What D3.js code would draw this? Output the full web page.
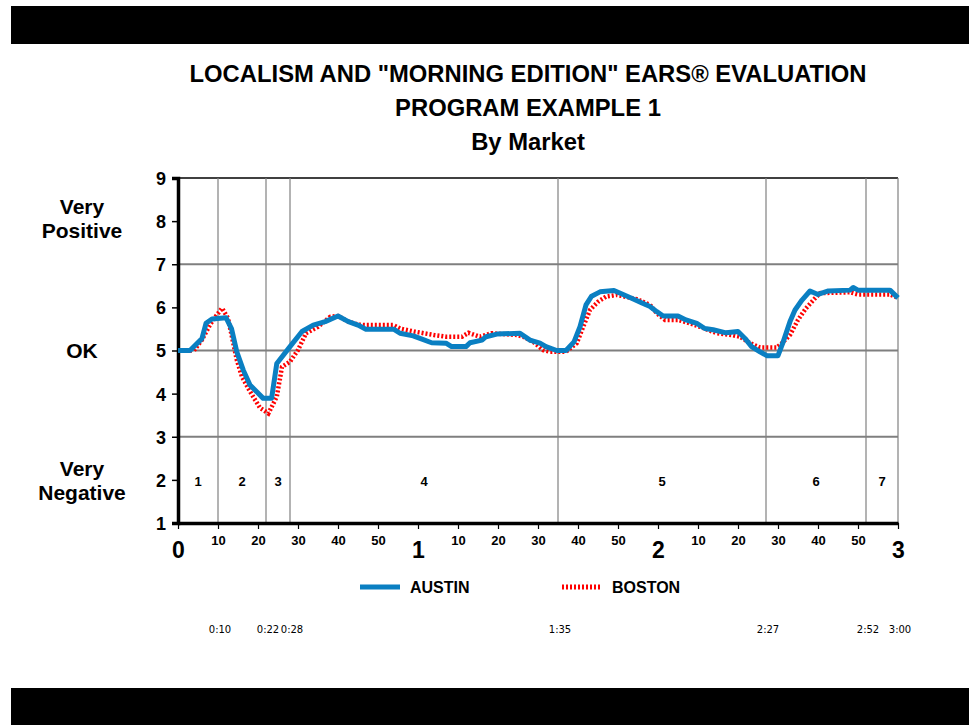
<!DOCTYPE html>
<html><head><meta charset="utf-8">
<script src="https://cdn.jsdelivr.net/npm/d3@7"></script>
<style>body{margin:0;background:#fff}svg{display:block}</style>
</head><body><svg id="c" width="969" height="725"></svg>
<script>
const titleLines = ['LOCALISM AND "MORNING EDITION" EARS® EVALUATION', 'PROGRAM EXAMPLE 1', 'By Market'];
const yTicks = [1,2,3,4,5,6,7,8,9];
const yGrid = [3,5,7,9];
const yCategories = [{lines:["Very","Positive"], v:8.05},{lines:["OK"], v:5},{lines:["Very","Negative"], v:1.97}];
const xTicks = d3.range(0,181,10);
const segmentBreaks = [10,22,28,95,147,172,180];
const breakLabels = ["0:10","0:22","0:28","1:35","2:27","2:52","3:00"];
const segmentNames = ["1","2","3","4","5","6","7"];
const segmentLabelX = [5,16,25,61.5,121,159.5,176];
const seriesNames = ["AUSTIN","BOSTON"];

const austinTime = [0,3,6,7,8.5,12,13.4,14.7,16.3,18,21.3,23.4,24.7,28,31,33.8,36.8,40,42.6,45,47,54,55.5,58.8,60.5,63.4,67,68.4,72,73,76,77,79.7,85.5,88,90.5,92,94.7,97,99,100.5,102,103.4,105.5,109,111,113.4,116,118,119.7,121.3,125,127,129.7,131.7,133.8,137,140,141.75,143.4,145.5,147.2,150,151.3,153,154.25,156,158,160,162.6,168,168.8,170,178,180];
const austinValue = [5.0,5.0,5.28,5.63,5.73,5.76,5.5,4.97,4.55,4.2,3.89,3.89,4.7,5.09,5.44,5.59,5.67,5.8,5.67,5.59,5.49,5.49,5.4,5.34,5.28,5.18,5.17,5.09,5.09,5.18,5.24,5.32,5.38,5.4,5.24,5.17,5.09,5.0,5.0,5.2,5.55,6.06,6.26,6.36,6.39,6.31,6.21,6.1,6.02,5.9,5.8,5.8,5.71,5.63,5.51,5.48,5.41,5.44,5.28,5.09,4.97,4.88,4.88,5.2,5.67,5.94,6.17,6.38,6.3,6.38,6.4,6.46,6.4,6.4,6.22];

const bostonTime = [0,4,6,8,9.5,11,12.5,14.7,16,18,20.5,22.6,24.7,26,28,30,32,35,38,40,42.6,45,47,53.8,55.5,59,64,67,71,72.6,75.5,78.4,84.7,86.3,88.8,91.3,93,97,99.7,101.3,103,105,107,109.7,114.7,118,119.7,121.75,125,128,130.5,134.7,138.4,140.5,143,145.5,149.7,151,153,155,157,159.25,160.5,168,170,178,180];
const bostonValue = [5.0,5.0,5.25,5.6,5.8,5.98,5.75,4.78,4.39,4.05,3.67,3.54,3.93,4.62,4.74,5.01,5.4,5.55,5.78,5.8,5.67,5.6,5.59,5.59,5.51,5.44,5.36,5.32,5.32,5.41,5.32,5.4,5.36,5.32,5.2,5.01,4.97,4.97,5.17,5.55,5.94,6.13,6.25,6.29,6.19,6.06,5.86,5.71,5.71,5.63,5.55,5.4,5.36,5.32,5.17,5.07,5.07,5.17,5.36,5.71,5.98,6.21,6.33,6.35,6.3,6.3,6.22];

const BLUE = "#0a7fc2", RED = "#ff0000";
const FONT = "'Liberation Sans', Arial, sans-serif";
const svg = d3.select("#c");
const L = 178, R = 898, T = 178, B = 523;
const x = d3.scaleLinear().domain([0,180]).range([L,R]);
const y = d3.scaleLinear().domain([1,9]).range([B,T]);

// black bands
svg.append("rect").attr("x",11).attr("y",6).attr("width",958).attr("height",38).attr("fill","#000");
svg.append("rect").attr("x",11).attr("y",688).attr("width",958).attr("height",37).attr("fill","#000");

// title
svg.selectAll("text.title").data(titleLines).join("text")
  .attr("x",528).attr("y",(d,i)=>82+i*34)
  .attr("text-anchor","middle").attr("font-family",FONT).attr("font-weight","bold").attr("font-size",23.8)
  .text(d=>d);

// horizontal gridlines
svg.selectAll("line.hg").data(yGrid).join("line")
  .attr("x1",L).attr("x2",R).attr("y1",d=>y(d)).attr("y2",d=>y(d))
  .attr("stroke",d=>d===9?"#404040":"#7f7f7f").attr("stroke-width",2);

// vertical segment lines
svg.selectAll("line.vg").data(segmentBreaks).join("line")
  .attr("x1",d=>x(d)).attr("x2",d=>x(d)).attr("y1",T).attr("y2",B)
  .attr("stroke","#808080").attr("stroke-width",1.2);

// segment labels
svg.selectAll("text.seg").data(segmentNames).join("text")
  .attr("x",(d,i)=>x(segmentLabelX[i])).attr("y",y(2)+6)
  .attr("text-anchor","middle").attr("font-family",FONT).attr("font-weight","bold").attr("font-size",13)
  .text(d=>d);

// y axis
const yAxis = svg.append("g").attr("transform",`translate(${L},0)`)
  .call(d3.axisLeft(y).tickValues(yTicks).tickSize(6).tickPadding(6).tickFormat(d3.format("d")));
yAxis.select(".domain").attr("stroke","#000").attr("stroke-width",3.5);
yAxis.selectAll(".tick line").attr("stroke","#000").attr("stroke-width",1.5);
yAxis.selectAll(".tick text").attr("font-family",FONT).attr("font-weight","bold").attr("font-size",18).attr("fill","#000").attr("dy","0.36em");

// y categories
yCategories.forEach(c=>{
  const n=c.lines.length;
  c.lines.forEach((t,i)=>{
    svg.append("text").attr("x",82).attr("y",y(c.v)+(i-(n-1)/2)*24+7)
      .attr("text-anchor","middle").attr("font-family",FONT).attr("font-weight","bold").attr("font-size",21).text(t);
  });
});

// x axis
const xAxis = svg.append("g").attr("transform",`translate(0,${B})`)
  .call(d3.axisBottom(x).tickValues(xTicks).tickSize(6).tickSizeOuter(0).tickFormat(d=>d%60===0?String(d/60):String(d%60)));
xAxis.select(".domain").attr("stroke","#000").attr("stroke-width",3.5);
xAxis.selectAll(".tick line").attr("stroke","#000").attr("stroke-width",1.2);
xAxis.selectAll(".tick text").attr("font-family",d=>d%60===0?FONT:"'Liberation Sans Narrow', 'Liberation Sans', sans-serif")
  .attr("font-weight","bold").attr("fill","#000")
  .attr("font-size",d=>d%60===0?23:13)
  .attr("y",d=>d%60===0?19:13);

// lines
const line = d3.line().x(d=>x(d[0])).y(d=>y(d[1]));
const bostonData = bostonTime.map((t,i)=>[t,bostonValue[i]]);
const austinData = austinTime.map((t,i)=>[t,austinValue[i]]);
svg.append("path").datum(bostonData).attr("d",line).attr("fill","none")
  .attr("stroke",RED).attr("stroke-width",4.5).attr("stroke-dasharray","2,2");
svg.append("path").datum(austinData).attr("d",line).attr("fill","none")
  .attr("stroke",BLUE).attr("stroke-width",5).attr("stroke-linejoin","round");

// legend
const legX = [360,562];
seriesNames.forEach((n,i)=>{
  svg.append("line").attr("x1",legX[i]).attr("x2",legX[i]+40).attr("y1",587).attr("y2",587)
    .attr("stroke",i===0?BLUE:RED).attr("stroke-width",5).attr("stroke-dasharray",i===0?null:"2,2");
  svg.append("text").attr("x",legX[i]+50).attr("y",593).attr("font-family",FONT).attr("font-weight","bold").attr("font-size",16).text(n);
});

// bottom time labels
svg.selectAll("text.bl").data(breakLabels).join("text")
  .attr("x",(d,i)=>x(segmentBreaks[i])+2).attr("y",633)
  .attr("text-anchor","middle").attr("font-family","'DejaVu Sans', sans-serif").attr("font-size",10)
  .text(d=>d);
</script></body></html>
